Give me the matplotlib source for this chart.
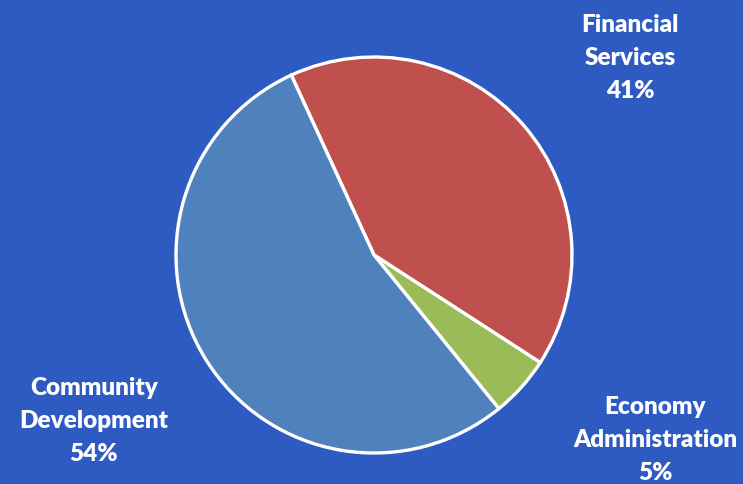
import matplotlib
matplotlib.use("Agg")
import matplotlib.pyplot as plt

categories = ["Financial\nServices", "Economy\nAdministration", "Community\nDevelopment"]
shares = [41, 5, 54]
colors = ["#C0504D", "#9BBB59", "#4F81BD"]

W, H = 743, 484
bg = "#2D5BC1"
fig = plt.figure(figsize=(W / 100, H / 100), dpi=100, facecolor=bg)
ax = fig.add_axes([0, 0, 1, 1])
ax.set_facecolor(bg)

ax.pie(shares, colors=colors, startangle=114.7, counterclock=False,
       center=(374, H - 255), radius=198,
       wedgeprops=dict(edgecolor="white", linewidth=2.4), frame=True)
ax.set_xlim(0, W)
ax.set_ylim(0, H)
ax.set_aspect("equal")
ax.axis("off")

label_pos = [(630, 58), (655, 440), (94, 421)]
for cat, val, (x, y) in zip(categories, shares, label_pos):
    ax.text(x, H - y, f"{cat}\n{val}%", ha="center", va="center",
            color="white", fontsize=17.5, fontweight="heavy", family="Lato",
            linespacing=1.62)

fig.savefig("out.png", dpi=100, facecolor=bg)
